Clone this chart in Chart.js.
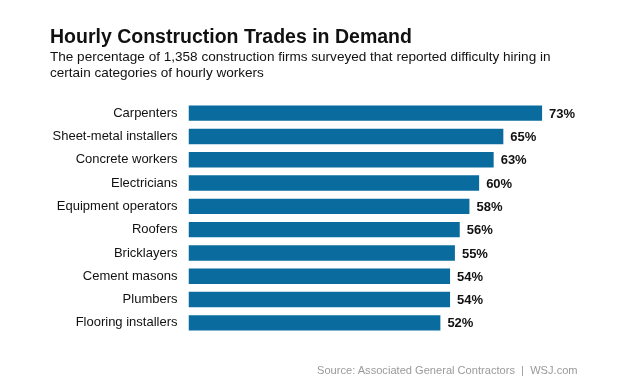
<!DOCTYPE html>
<html>
<head>
<meta charset="utf-8">
<script src="https://cdn.jsdelivr.net/npm/chart.js@4/dist/chart.umd.min.js"></script>
<style>
  html, body { margin: 0; padding: 0; background: #fff; }
  body { width: 628px; height: 381px; position: relative; overflow: hidden; font-family: "Liberation Sans", Arial, sans-serif; }
  #title { position: absolute; left: 50px; top: 26px; font-size: 19.5px; line-height: 20px; font-weight: bold; color: #111; white-space: nowrap; }
  #sub { position: absolute; left: 50px; top: 49px; font-size: 13.55px; line-height: 15.5px; color: #111; white-space: nowrap; }
  #source { position: absolute; left: 317px; top: 364.7px; font-size: 11.1px; line-height: 11px; color: #9a9a9a; white-space: nowrap; }
  #wrap { position: absolute; left: 0; top: 0; width: 628px; height: 381px; }
</style>
</head>
<body>
<div id="wrap"><canvas id="c" width="628" height="381"></canvas></div>
<div id="title">Hourly Construction Trades in Demand</div>
<div id="sub">The percentage of 1,358 construction firms surveyed that reported difficulty hiring in<br>certain categories of hourly workers</div>
<div id="source">Source: Associated General Contractors&nbsp; |&nbsp; WSJ.com</div>
<script>
const categories = ["Carpenters", "Sheet-metal installers", "Concrete workers", "Electricians", "Equipment operators", "Roofers", "Bricklayers", "Cement masons", "Plumbers", "Flooring installers"];
const values = [73, 65, 63, 60, 58, 56, 55, 54, 54, 52];
const valueLabels = ["73%", "65%", "63%", "60%", "58%", "56%", "55%", "54%", "54%", "52%"];

const valueLabelPlugin = {
  id: 'valueLabels',
  afterDatasetsDraw(chart) {
    const ctx = chart.ctx;
    const meta = chart.getDatasetMeta(0);
    ctx.save();
    ctx.font = 'bold 13px "Liberation Sans", Arial, sans-serif';
    ctx.fillStyle = '#111';
    ctx.textAlign = 'left';
    ctx.textBaseline = 'middle';
    meta.data.forEach((bar, i) => {
      ctx.fillText(valueLabels[i], bar.x + 7, bar.y + 1);
    });
    ctx.restore();
  }
};

new Chart(document.getElementById('c'), {
  type: 'bar',
  data: {
    labels: categories,
    datasets: [{
      data: values,
      backgroundColor: '#0a6c9e',
      borderWidth: 0,
      barPercentage: 0.66,
      categoryPercentage: 1.0
    }]
  },
  options: {
    indexAxis: 'y',
    responsive: false,
    animation: false,
    devicePixelRatio: 1,
    layout: { padding: { top: 101.5, bottom: 46.5, left: 0, right: 52 } },
    plugins: { legend: { display: false }, tooltip: { enabled: false }, title: { display: false } },
    scales: {
      x: { display: false, min: 0, max: 80 },
      y: {
        afterFit(scale) { scale.width = 188.5; },
        grid: { display: false, drawTicks: false },
        border: { display: false },
        ticks: {
          padding: 11,
          color: '#111',
          font: { family: '"Liberation Sans", Arial, sans-serif', size: 13 }
        }
      }
    }
  },
  plugins: [valueLabelPlugin]
});
</script>
</body>
</html>
